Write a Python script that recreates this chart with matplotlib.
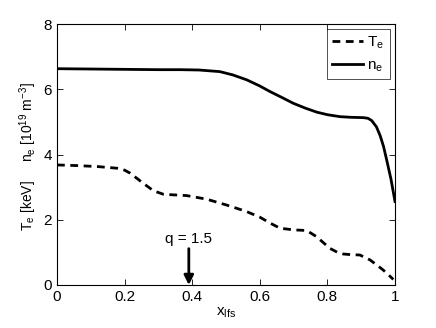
import numpy as np
import matplotlib
matplotlib.use('Agg')
import matplotlib.pyplot as plt

plt.rcParams['font.family'] = ['Liberation Sans', 'DejaVu Sans']
plt.rcParams['mathtext.fontset'] = 'custom'
plt.rcParams['mathtext.rm'] = 'Liberation Sans'
plt.rcParams['mathtext.it'] = 'Liberation Sans'

# profiles
x_ne = [0.0, 0.1, 0.2, 0.3, 0.364, 0.42, 0.482, 0.52, 0.561, 0.6, 0.63, 0.665, 0.699, 0.735, 0.768,
        0.8, 0.837, 0.87, 0.906, 0.92, 0.931, 0.945, 0.956, 0.966, 0.975, 0.988, 1.0]
ne = [6.63, 6.62, 6.61, 6.6, 6.6, 6.59, 6.54, 6.44, 6.29, 6.1, 5.93, 5.75, 5.57, 5.42, 5.3,
      5.22, 5.16, 5.14, 5.13, 5.11, 5.04, 4.85, 4.58, 4.25, 3.85, 3.25, 2.56]

x_te = [0.0, 0.06, 0.12, 0.177, 0.2, 0.216, 0.235, 0.255, 0.285, 0.315, 0.35, 0.384, 0.443, 0.502,
        0.532, 0.561, 0.6, 0.63, 0.66, 0.7, 0.739, 0.768, 0.79, 0.808, 0.83, 0.847, 0.87, 0.896,
        0.926, 0.945, 0.965, 0.98, 0.995]
te = [3.68, 3.66, 3.63, 3.58, 3.52, 3.43, 3.28, 3.12, 2.89, 2.78, 2.76, 2.74, 2.63, 2.45,
      2.35, 2.25, 2.08, 1.9, 1.74, 1.69, 1.67, 1.48, 1.28, 1.12, 1.0, 0.95, 0.93, 0.92,
      0.77, 0.62, 0.46, 0.32, 0.17]

q_pos = 0.39

fig = plt.figure(figsize=(4.36, 3.28), dpi=100)
ax = fig.add_axes([57/436, 43/328, 338/436, 261/328])

ax.plot(x_te, te, 'k--', lw=2, dashes=(2.8, 2.0), label='T$_\\mathregular{e}$')
ax.plot(x_ne, ne, 'k-', lw=2, label='n$_\\mathregular{e}$')

ax.set_xlim(0, 1)
ax.set_ylim(0, 8)
ax.set_xticks([0, 0.2, 0.4, 0.6, 0.8, 1])
ax.set_xticklabels(['0', '0.2', '0.4', '0.6', '0.8', '1'])
ax.set_yticks([0, 2, 4, 6, 8])
ax.tick_params(direction='in', top=True, right=True, labelsize=11, length=4, width=0.6)
for s in ax.spines.values():
    s.set_linewidth(0.8)

ax.annotate('q = 1.5', xy=(q_pos, 0.0), xytext=(q_pos, 1.2),
            ha='center', va='bottom', fontsize=11,
            arrowprops=dict(arrowstyle='-|>', color='k', lw=2, mutation_scale=14, shrinkA=0, shrinkB=0))

ax.set_xlabel('x$_\\mathregular{lfs}$', fontsize=11, labelpad=1)
fig.text(28/436, 1 - 206/328, 'T$_\\mathregular{e}$ [keV]', rotation=90, ha='center', va='center', fontsize=10)
fig.text(28/436, 1 - 122/328, 'n$_\\mathregular{e}$ [10$^\\mathregular{19}$ m$^\\mathregular{-3}$]', rotation=90, ha='center', va='center', fontsize=10)

leg = ax.legend(loc='upper right', fontsize=11, fancybox=False, edgecolor='k',
                handlelength=2.0, borderaxespad=0.35, handletextpad=0.3, labelspacing=0.5,
                borderpad=0.35)
leg.get_frame().set_linewidth(0.6)

fig.savefig('out.png', dpi=100)
